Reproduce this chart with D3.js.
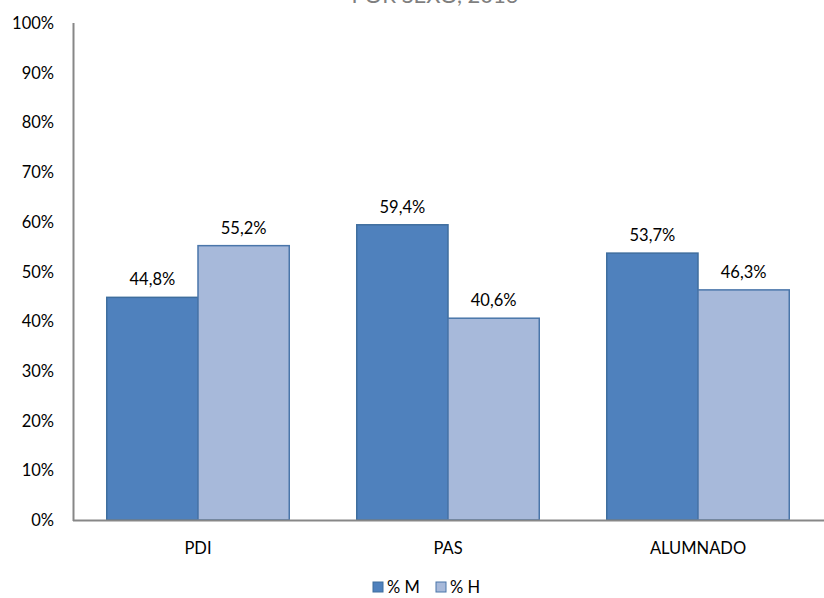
<!DOCTYPE html>
<html><head><meta charset="utf-8">
<script src="https://cdn.jsdelivr.net/npm/d3@7"></script>
<style>body{margin:0;background:#fff}svg{display:block;font-family:Lato,Carlito,Calibri,sans-serif}</style>
</head><body>
<svg id="c" width="824" height="598"></svg>
<script>
const categories = ["PDI", "PAS", "ALUMNADO"];
const seriesNames = ["% M", "% H"];
const valuesM = [44.8, 59.4, 53.7];
const valuesH = [55.2, 40.6, 46.3];
const yTicks = [0,10,20,30,40,50,60,70,80,90,100];
const titleText = "POR SEXO, 2013";

const fills = ["#4F81BD", "#A7B9DA"];
const strokes = ["#3F6E9E", "#4A76AA"];
const FS = 16.5;
const svg = d3.select("#c");
const x0 = d3.scaleBand().domain(categories).range([73, 823]).paddingInner(0.27).paddingOuter(0.135);
const x1 = d3.scaleBand().domain(seriesNames).range([0, x0.bandwidth()]);
const y = d3.scaleLinear().domain([0, 100]).range([520, 23]);

svg.append("text").attr("x", 435).attr("y", 3).attr("text-anchor", "middle")
  .attr("font-size", 22).attr("fill", "#7F7F7F").text(titleText);

svg.selectAll(".yt").data(yTicks).join("text")
  .attr("x", 54).attr("y", d => y(d) + 6).attr("text-anchor", "end")
  .attr("font-size", FS).attr("fill", "#000").text(d => d + "%");

const data = categories.map((c, i) => ({c, vals: [valuesM[i], valuesH[i]]}));
const g = svg.selectAll(".grp").data(data).join("g").attr("transform", d => `translate(${x0(d.c)},0)`);
g.selectAll("rect").data(d => d.vals.map((v, j) => ({v, s: seriesNames[j], j}))).join("rect")
  .attr("x", d => x1(d.s)).attr("y", d => y(d.v)).attr("width", x1.bandwidth()).attr("height", d => y(0) - y(d.v))
  .attr("fill", d => fills[d.j]).attr("stroke", d => strokes[d.j]).attr("stroke-width", 1.5);
g.selectAll("text").data(d => d.vals.map((v, j) => ({v, s: seriesNames[j], j}))).join("text")
  .attr("x", d => x1(d.s) + x1.bandwidth() / 2).attr("y", d => y(d.v) - 12)
  .attr("text-anchor", "middle").attr("font-size", FS).attr("fill", "#000")
  .text(d => d3.format(".1f")(d.v).replace(".", ",") + "%");

svg.append("line").attr("x1", 73.5).attr("x2", 73.5).attr("y1", 23).attr("y2", 521).attr("stroke", "#878787").attr("stroke-width", 2);
svg.append("line").attr("x1", 73).attr("x2", 824).attr("y1", 520.5).attr("y2", 520.5).attr("stroke", "#878787").attr("stroke-width", 2);

svg.selectAll(".xl").data(categories).join("text")
  .attr("x", d => x0(d) + x0.bandwidth() / 2).attr("y", 554).attr("text-anchor", "middle")
  .attr("font-size", FS).attr("fill", "#000").text(d => d);

const lx = [373, 436];
const lg = svg.selectAll(".lg").data(seriesNames).join("g").attr("transform", (d, i) => `translate(${lx[i]},582)`);
lg.append("rect").attr("width", 10).attr("height", 10).attr("fill", (d, i) => fills[i]).attr("stroke", (d, i) => strokes[i]);
lg.append("text").attr("x", 14).attr("y", 11).attr("font-size", FS).attr("fill", "#000").text(d => d);
</script>
</body></html>
